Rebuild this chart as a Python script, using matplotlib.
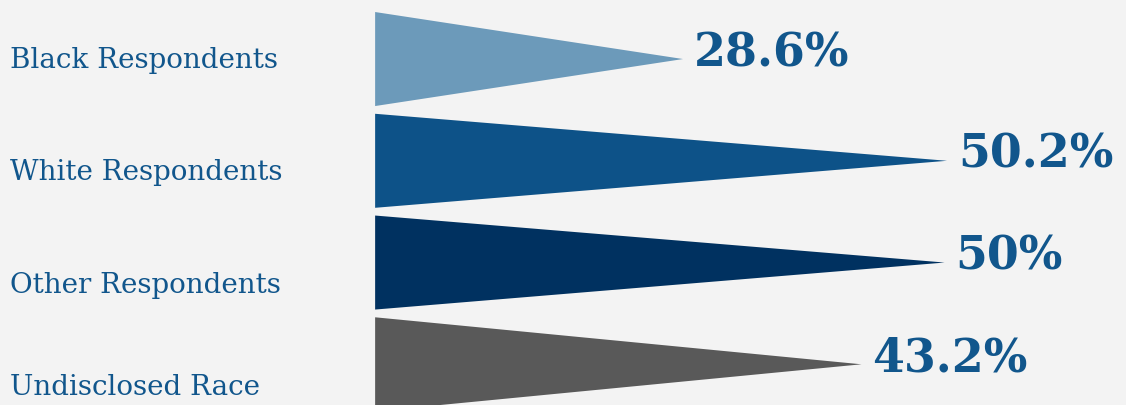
import matplotlib.pyplot as plt
from matplotlib.patches import Polygon

# --- Data ---
groups = ['Black Respondents', 'White Respondents', 'Other Respondents', 'Undisclosed Race']
values = [28.6, 50.2, 50.0, 43.2]
value_labels = ['28.6%', '50.2%', '50%', '43.2%']
colors = ['#6c9aba', '#0d5288', '#003160', '#595959']

bg = '#f3f3f3'
text_color = '#11568c'

fig = plt.figure(figsize=(11.26, 4.06), dpi=100, facecolor=bg)
ax = fig.add_axes([0, 0, 1, 1])
ax.set_facecolor(bg)

base = 3.4      # where the triangles start
half = 0.462    # half height of each triangle (row units)

for i, (v, c) in enumerate(zip(values, colors)):
    tri = Polygon([(base, i - half), (base, i + half), (v, i)], closed=True,
                  facecolor=c, edgecolor='none')
    ax.add_patch(tri)
    ax.annotate(value_labels[i], xy=(v, i), xytext=(8, 5), textcoords='offset points',
                ha='left', va='center', fontsize=33, fontweight='bold',
                family='DejaVu Serif', color=text_color)

# category labels don't sit exactly on the rows, baseline offsets by eye
label_shift = [0.08, 0.18, 0.29, 0.29]
for i, g in enumerate(groups):
    ax.text(-26.5, i + label_shift[i], g, ha='left', va='baseline', fontsize=20,
            family='DejaVu Serif', color=text_color)

ax.set_xlim(-27.3, 64.85)
ax.set_ylim(3.40, -0.59)
ax.axis('off')

plt.savefig('out.png', dpi=100, facecolor=bg)
